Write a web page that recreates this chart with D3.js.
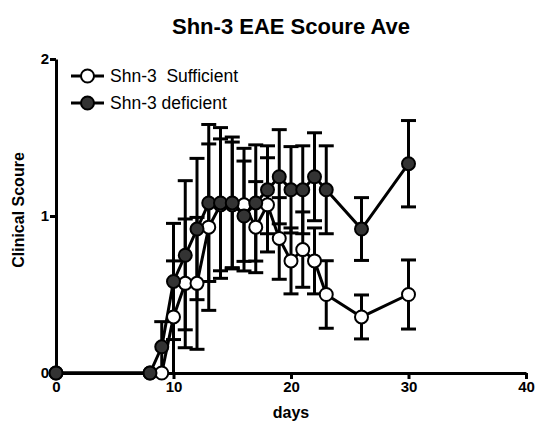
<!DOCTYPE html>
<html lang="en">
<head>
    <meta charset="UTF-8">
    <title>Shn-3 EAE Scoure Ave</title>
    <script src="https://cdn.jsdelivr.net/npm/d3@7/dist/d3.min.js"></script>
    <style>
        body { margin: 0; background: #fff; }
        svg { display: block; font-family: Arial, "Liberation Sans", sans-serif; }
    </style>
</head>
<body>
    <div class="container"></div>
    <script>
        // days of scoring
        const days = [0, 8, 9, 10, 11, 12, 13, 14, 15, 16, 17, 18, 19, 20, 21, 22, 23, 26, 30]

        // Shn-3 sufficient (open circles)
        const sufficientMean = [0, 0, 0, 0.357, 0.571, 0.571, 0.929, 1.071, 1.071, 1.071, 0.929, 1.071, 0.857, 0.714, 0.786, 0.714, 0.5, 0.357, 0.5]
        const sufficientErr  = [0, 0, 0, 0.357, 0.41, 0.42, 0.53, 0.42, 0.40, 0.36, 0.29, 0.30, 0.26, 0.21, 0.24, 0.21, 0.215, 0.14, 0.22]

        // Shn-3 deficient (filled circles)
        const deficientMean = [0, 0, 0.167, 0.583, 0.75, 0.917, 1.083, 1.083, 1.083, 1.0, 1.083, 1.167, 1.25, 1.167, 1.167, 1.25, 1.167, 0.917, 1.333]
        const deficientErr  = [0, 0, 0.16, 0.37, 0.475, 0.45, 0.5, 0.48, 0.42, 0.35, 0.37, 0.28, 0.30, 0.275, 0.28, 0.28, 0.28, 0.2, 0.275]

        const xTicks = [0, 10, 20, 30, 40]
        const yTicks = [0, 1, 2]

        const width = 538, height = 425

        const svg = d3.select('.container').append("svg")
            .attr("width", width).attr("height", height)

        const x = d3.scaleLinear().domain([0, 40]).range([56, 526])
        const y = d3.scaleLinear().domain([0, 2]).range([373, 59])

        const series = [
            { name: "Shn-3  Sufficient", mean: sufficientMean, err: sufficientErr, fill: "#fff" },
            { name: "Shn-3 deficient", mean: deficientMean, err: deficientErr, fill: "#333" }
        ]
        series.forEach(s => {
            s.points = days.map((d, i) => ({ day: d, v: s.mean[i], e: s.err[i] }))
        })

        // title
        svg.append("text")
            .attr("x", 291).attr("y", 34)
            .attr("text-anchor", "middle")
            .attr("font-size", 22).attr("font-weight", "bold")
            .text("Shn-3 EAE Scoure Ave")

        // axes
        const xAxis = svg.append("g")
            .attr("transform", `translate(0,${y(0)})`)
            .call(d3.axisBottom(x).tickValues(xTicks).tickSize(6).tickSizeOuter(0).tickPadding(2))
        const yAxis = svg.append("g")
            .attr("transform", `translate(${x(0)},0)`)
            .call(d3.axisLeft(y).tickValues(yTicks).tickFormat(d3.format("d")).tickSize(6).tickSizeOuter(0).tickPadding(1))

        ;[xAxis, yAxis].forEach(a => {
            a.select(".domain").attr("stroke", "#000").attr("stroke-width", 3)
            a.selectAll(".tick line").attr("stroke", "#000").attr("stroke-width", 3)
            a.selectAll(".tick text")
                .attr("fill", "#000")
                .attr("font-size", 15).attr("font-weight", "bold")
                .attr("font-family", "Arial, 'Liberation Sans', sans-serif")
        })

        // axis titles
        svg.append("text")
            .attr("x", 291).attr("y", 418)
            .attr("text-anchor", "middle")
            .attr("font-size", 16).attr("font-weight", "bold")
            .text("days")

        svg.append("text")
            .attr("transform", "translate(24,210) rotate(-90)")
            .attr("text-anchor", "middle")
            .attr("font-size", 16).attr("font-weight", "bold")
            .text("Clinical Scoure")

        // error bars
        const capW = 7.5
        const bars = svg.append("g").attr("stroke", "#000").attr("stroke-width", 3)
        series.forEach(s => {
            const pts = s.points.filter(p => p.e > 0)
            bars.selectAll(null).data(pts).join("line")
                .attr("x1", p => x(p.day)).attr("x2", p => x(p.day))
                .attr("y1", p => y(p.v + p.e)).attr("y2", p => y(Math.max(0, p.v - p.e)))
            bars.selectAll(null).data(pts).join("line")
                .attr("x1", p => x(p.day) - capW).attr("x2", p => x(p.day) + capW)
                .attr("y1", p => y(p.v + p.e)).attr("y2", p => y(p.v + p.e))
            bars.selectAll(null).data(pts.filter(p => p.v - p.e > 0.01)).join("line")
                .attr("x1", p => x(p.day) - capW).attr("x2", p => x(p.day) + capW)
                .attr("y1", p => y(p.v - p.e)).attr("y2", p => y(p.v - p.e))
        })

        // lines
        const line = d3.line().x(p => x(p.day)).y(p => y(p.v))
        series.forEach(s => {
            svg.append("path")
                .datum(s.points)
                .attr("fill", "none").attr("stroke", "#000").attr("stroke-width", 3)
                .attr("d", line)
        })

        // points
        series.forEach(s => {
            svg.append("g").selectAll("circle").data(s.points).join("circle")
                .attr("cx", p => x(p.day)).attr("cy", p => y(p.v))
                .attr("r", 6.5)
                .attr("fill", s.fill).attr("stroke", "#000").attr("stroke-width", 2)
        })

        // legend
        const legend = svg.append("g")
        series.forEach((s, i) => {
            const ly = 76 + i * 27
            legend.append("line")
                .attr("x1", 71).attr("x2", 104).attr("y1", ly).attr("y2", ly)
                .attr("stroke", "#000").attr("stroke-width", 3)
            legend.append("circle")
                .attr("cx", 87.5).attr("cy", ly).attr("r", 6.5)
                .attr("fill", s.fill).attr("stroke", "#000").attr("stroke-width", 2)
            legend.append("text")
                .attr("x", 110).attr("y", ly + 6)
                .attr("font-size", 17.5)
                .style("white-space", "pre")
                .text(s.name)
        })
    </script>
</body>
</html>
